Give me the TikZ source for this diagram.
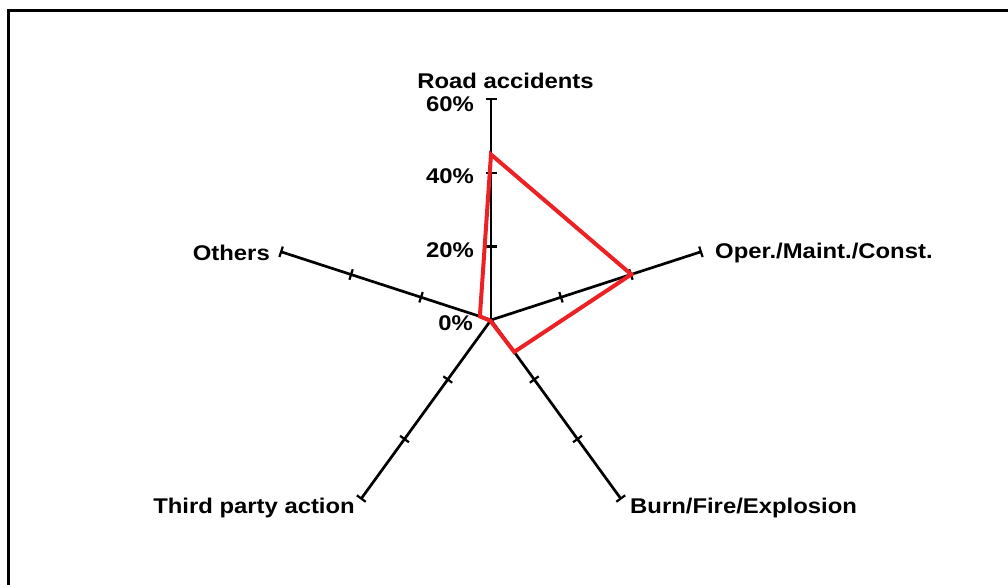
\documentclass[tikz,border=0pt]{standalone}
\usepackage{fontspec}
\setmainfont{Liberation Sans}
\usetikzlibrary{calc}
\definecolor{datared}{RGB}{237,32,36}
\begin{document}
\begin{tikzpicture}[x=1pt,y=1pt,
  lbl/.style={font=\fontsize{21.3}{25}\selectfont\bfseries, inner sep=0pt, xscale=1.12},
  axisline/.style={line width=2.7pt, black},
  tickmark/.style={line width=2.2pt, black},
  dataline/.style={line width=4pt, draw=datared, line join=miter}]
\useasboundingbox (0,-585) rectangle (1008,0);
\draw[line width=3pt] (8,-11) rectangle (1030,-610);
\coordinate (C) at (491,-320);
% axes
\foreach \nm/\a in {Road/90, Oper/18, Burn/-54, Third/-126, Others/162}{
  \coordinate (e\nm) at ($(C)+(\a:220.7)$);
  \draw[axisline] (C) -- (e\nm);
  \foreach \r in {73.57,147.13,220.7}{
    \draw[tickmark] ($(C)+(\a:\r)+(\a+90:5.5)$) -- ($(C)+(\a:\r)+(\a-90:5.5)$);
  }
}
% data (percent * 220.7/60)
\coordinate (pRoad) at ($(C)+(90:165.5)$);
\coordinate (pOper) at ($(C)+(18:147.5)$);
\coordinate (pBurn) at ($(C)+(-54:39.5)$);
\coordinate (pThird) at ($(C)+(-126:1)$);
\coordinate (pOthers) at ($(C)+(162:11.7)$);
\draw[dataline] (pRoad) -- (pOper) -- (pBurn) -- (pThird) -- (pOthers) -- cycle;
% labels
\node[lbl, anchor=base] (tRoad) at (505.5,-89) {Road accidents};
\node[lbl, anchor=base east] (t60) at (474,-112) {60\%};
\node[lbl, anchor=base east] (t40) at (474,-183.5) {40\%};
\node[lbl, anchor=base east] (t20) at (474,-257) {20\%};
\node[lbl, anchor=base east] (t0) at (473,-330) {0\%};
\node[lbl, anchor=base west] (tOper) at (715,-258.5) {Oper./Maint./Const.};
\node[lbl, anchor=base west] (tBurn) at (630,-513) {Burn/Fire/Explosion};
\node[lbl, anchor=base east] (tThird) at (355,-513) {Third party action};
\node[lbl, anchor=base east] (tOthers) at (270,-260.5) {Others};
\end{tikzpicture}
\end{document}
